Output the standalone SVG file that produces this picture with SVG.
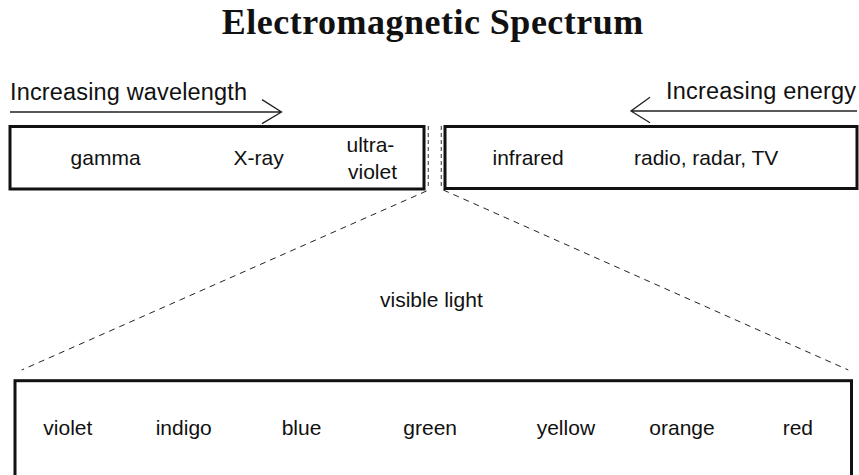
<svg xmlns="http://www.w3.org/2000/svg" width="859" height="475" viewBox="0 0 859 475">
<style>
.t{font-family:"Liberation Sans",Arial,sans-serif;font-size:21px;fill:#111}
.a{font-family:"Liberation Sans",Arial,sans-serif;font-size:23.5px;fill:#111}
.title{font-family:"Liberation Serif","Times New Roman",serif;font-size:36px;font-weight:bold;fill:#111}
.box{fill:#fff;stroke:#111;stroke-width:3}
.arr{fill:none;stroke:#222;stroke-width:1.3}
.vd{stroke:#555;stroke-width:1.2;stroke-dasharray:4 3;fill:none}
.dd{stroke:#222;stroke-width:1;stroke-dasharray:6 5;fill:none}
</style>
<rect width="859" height="475" fill="#fff"/>
<text class="title" x="221.7" y="34" textLength="421.6">Electromagnetic Spectrum</text>
<g id="wavelength-arrow">
<text class="a" x="10" y="100" textLength="237">Increasing wavelength</text>
<path class="arr" d="M10 112H281.5M262 99.6L281.5 112L262 123.6"/>
</g>
<g id="energy-arrow">
<text class="a" x="666" y="98.5" textLength="190">Increasing energy</text>
<path class="arr" d="M857 111H631M650 97.3L631 111L650 122.8"/>
</g>
<g id="connectors">
<path class="vd" d="M428.3 126V189M441.3 126V189"/>
<path class="dd" d="M426.5 191L21.7 370M443.3 190L848.3 370"/>
</g>
<g id="spectrum-left">
<rect class="box" x="10" y="126.5" width="414" height="62.5"/>
<text class="t" x="70.6" y="165">gamma</text>
<text class="t" x="233.5" y="165">X-ray</text>
<text class="t" x="346.5" y="152.3">ultra-</text>
<text class="t" x="348" y="179.2">violet</text>
</g>
<g id="spectrum-right">
<rect class="box" x="445" y="126.5" width="412" height="62"/>
<text class="t" x="492.5" y="164.5">infrared</text>
<text class="t" x="634" y="164.5">radio, radar, TV</text>
</g>
<g id="visible-label">
<text class="t" x="380" y="307">visible light</text>
</g>
<g id="visible-spectrum">
<rect class="box" x="15" y="380.7" width="836.5" height="110"/>
<text class="t" x="43.3" y="435">violet</text>
<text class="t" x="155.7" y="435">indigo</text>
<text class="t" x="281.7" y="435">blue</text>
<text class="t" x="403.3" y="435">green</text>
<text class="t" x="536.7" y="435">yellow</text>
<text class="t" x="649.3" y="435">orange</text>
<text class="t" x="782.7" y="435">red</text>
</g>
</svg>
